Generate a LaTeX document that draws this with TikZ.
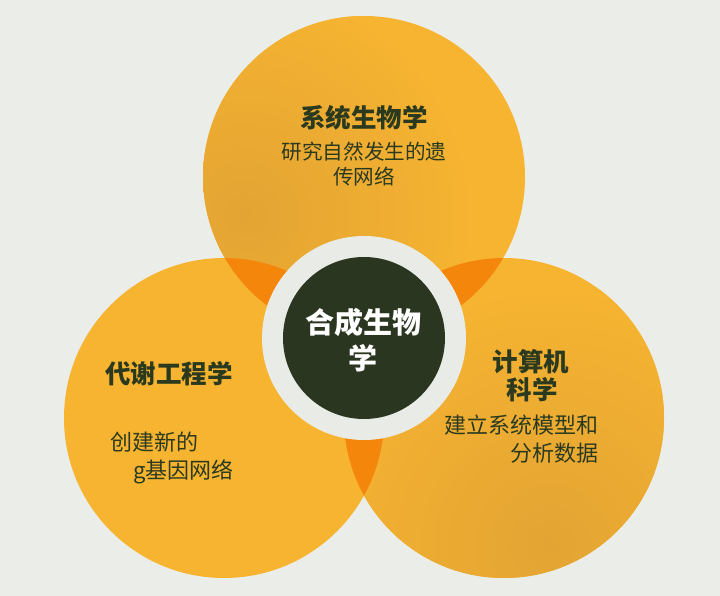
\documentclass[tikz,border=0pt]{standalone}
\usepackage{fontspec}
\setmainfont{Noto Sans CJK SC}
\definecolor{bgc}{HTML}{EBEDE8}
\definecolor{yel}{HTML}{F6B431}
\definecolor{yeld}{HTML}{E3A433}
\definecolor{org}{HTML}{F5860C}
\definecolor{darkc}{HTML}{2A3620}
\definecolor{ringc}{HTML}{E9ECE6}
\definecolor{txt}{HTML}{2B3A1F}
\tikzset{
  title/.style={inner sep=0pt, text=txt, font=\fontsize{25.5}{30}\selectfont\bfseries},
  sub/.style={inner sep=0pt, text=txt, font=\fontsize{22}{26}\selectfont},
  subtop/.style={inner sep=0pt, text=txt, font=\fontsize{20.6}{25}\selectfont},
  ctitle/.style={inner sep=0pt, text=white, font=\fontsize{29}{34}\selectfont\bfseries},
}
\begin{document}
\begin{tikzpicture}[x=1pt,y=-1pt]
\fill[bgc] (0,0) rectangle (720,596);
\def\TopC{(364,177) circle[radius=161]}
\def\LeftC{(224,418) circle[radius=160]}
\def\RightC{(504,418) circle[radius=160]}
\fill[yel] \TopC;
\fill[yel] \LeftC;
\fill[yel] \RightC;
% subtle darker patches
\begin{scope}
  \clip \TopC;
  \shade[inner color=yeld, outer color=yel] (245,215) circle[radius=230];
\end{scope}
\begin{scope}
  \clip \RightC;
  \shade[inner color=yeld, outer color=yel] (550,545) circle[radius=260];
\end{scope}
\begin{scope}
  \clip \TopC;
  \fill[org] \LeftC;
  \fill[org] \RightC;
\end{scope}
\begin{scope}
  \clip \LeftC;
  \fill[org] \RightC;
\end{scope}
\fill[ringc] (364,338) circle[radius=102];
\fill[darkc] (364,338) circle[radius=81];
% top
\node[title] (t1) at (364,118) {系统生物学};
\node[subtop] (t2) at (364,152) {研究自然发生的遗};
\node[subtop] (t3) at (364,177) {传网络};
% left
\node[title] (l1) at (169,374) {代谢工程学};
\node[sub, anchor=west] (l2) at (110,442) {创建新的};
\node[sub, anchor=west] (l3) at (133,472) {g基因网络};
% right
\node[title] (r1) at (531,362) {计算机};
\node[title] (r2) at (532,390) {科学};
\node[sub, anchor=east] (r3) at (599,425) {建立系统模型和};
\node[sub, anchor=east] (r4) at (599,453) {分析数据};
% center
\node[ctitle] (c1) at (363,322) {合成生物};
\node[ctitle] (c2) at (363,358) {学};
\end{tikzpicture}
\end{document}
